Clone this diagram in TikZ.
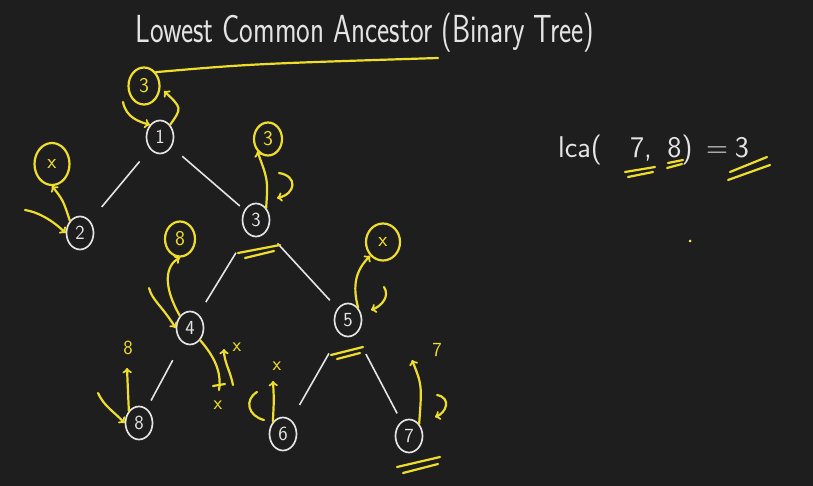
\documentclass[tikz,border=0pt]{standalone}
\usepackage{tikz}
\usetikzlibrary{shapes.geometric}
\definecolor{board}{RGB}{30,30,30}
\definecolor{chalk}{RGB}{228,228,228}
\definecolor{marker}{RGB}{238,222,42}
\tikzset{
	treenode/.style={draw=chalk, line width=1.7pt, ellipse, minimum width=27pt, minimum height=33pt, inner sep=0pt, text=chalk, font=\sffamily\fontsize{20}{20}\selectfont},
	tracenode/.style={draw=marker, line width=2.2pt, ellipse, inner sep=0pt, text=marker, font=\sffamily\fontsize{21}{21}\selectfont},
	treeline/.style={chalk, line width=1.6pt, shorten <=16pt, shorten >=9pt},
	yarrow/.style={marker, line width=2.2pt, line cap=round, ->},
	yline/.style={marker, line width=2.2pt, line cap=round},
	ytext/.style={text=marker, inner sep=0pt, font=\sffamily\fontsize{20}{20}\selectfont},
	wtext/.style={text=chalk, inner sep=0pt, anchor=base, font=\sffamily\fontsize{30}{30}\selectfont}
}

\begin{document}
\begin{tikzpicture}[x=1pt, y=-1pt]
		%%%%% START %%%%%
		
		\fill[board] (0, 0) rectangle (813, 486);
		
		\node[text=chalk, font=\sffamily\fontsize{29}{29}\selectfont] (title) at (365, 33) {\scalebox{1}[1.35]{Lowest Common Ancestor (Binary Tree)}};
		
		% tree
		\node[treenode] (n1) at (160, 137) {1};
		\node[treenode] (n2) at (80, 233) {2};
		\node[treenode] (n3) at (256, 220) {3};
		\node[treenode] (n4) at (190, 328) {4};
		\node[treenode] (n5) at (348, 320) {5};
		\node[treenode] (n8) at (139, 423) {8};
		\node[treenode] (n6) at (283, 434) {6};
		\node[treenode] (n7) at (409, 436) {7};
		
		\draw[treeline, shorten >=18pt] (n1) -- (n2);
		\draw[treeline, shorten <=14pt, shorten >=6pt] (n1) -- (n3);
		\draw[treeline, shorten <=22pt, shorten >=14pt] (n3) -- (n4);
		\draw[treeline, shorten >=11pt] (n3) -- (n5);
		\draw[treeline, shorten <=20pt] (n4) -- (n8);
		\draw[treeline, shorten <=22pt, shorten >=17pt] (n5) -- (n6);
		\draw[treeline, shorten <=22pt] (n5) -- (n7);
		
		% returned values
		\node[tracenode, minimum width=31pt, minimum height=37pt] (r1) at (144, 86) {3};
		\node[tracenode, minimum width=35pt, minimum height=42pt] (r2) at (52, 164) {x};
		\node[tracenode, minimum width=28pt, minimum height=33pt] (r3) at (268, 139) {3};
		\node[tracenode, minimum width=30pt, minimum height=35pt] (r4) at (180, 239) {8};
		\node[tracenode, minimum width=34pt, minimum height=37pt] (r5) at (383, 242) {x};
		
		\coordinate (tail) at (438, 58);
		\draw[yline] (r1.north east) .. controls (250, 64) .. (tail);
		
		% calls and returns around 1
		\draw[yarrow] (123, 102) .. controls (126, 118) and (140, 122) .. (n1.north west);
		\draw[yarrow] (n1.north east) .. controls (182, 108) .. (164, 91);
		
		% around 2
		\draw[yarrow] (25, 210) .. controls (38, 212) and (52, 220) .. (n2.west);
		\draw[yarrow] (n2.north west) .. controls (63, 200) .. (r2.south);
		
		% around 3
		\draw[yarrow] (n3.north east) .. controls (268, 180) .. (r3.south west);
		\draw[yarrow] (279, 173) .. controls (298, 176) and (296, 194) .. (277, 198);
		\draw[yline] (238, 253) -- (280, 245);
		\draw[yline] (245, 258) -- (274, 251);
		
		% around 4
		\draw[yarrow] (n4.north west) .. controls (162, 285) and (166, 265) .. (r4.south);
		\draw[yarrow] (149, 288) .. controls (152, 300) and (162, 306) .. (n4.west);
		\draw[yline] (n4.south east) .. controls (214, 356) and (222, 372) .. (219, 390);
		\draw[yline] (213, 386) -- (225, 384);
		\draw[yarrow] (233, 385) .. controls (230, 370) and (224, 362) .. (224, 349);
		\node[ytext] (x4a) at (237, 347) {x};
		\node[ytext] (x4b) at (218, 405) {x};
		
		% around 5
		\draw[yarrow] (n5.north east) .. controls (352, 285) and (356, 270) .. (r5.south west);
		\draw[yarrow] (384, 287) .. controls (390, 296) and (382, 306) .. (371, 310);
		\draw[yline] (331, 355) -- (363, 347);
		\draw[yline] (337, 359) -- (360, 353);
		
		% around 8
		\node[ytext] (v8) at (128, 348) {8};
		\draw[yarrow] (n8.north west) .. controls (128, 392) .. (127, 368);
		\draw[yarrow] (98, 393) .. controls (104, 406) and (112, 410) .. (n8.west);
		
		% around 6
		\node[ytext] (x6) at (277, 366) {x};
		\draw[yarrow] (n6.north west) .. controls (274, 400) .. (273, 381);
		\draw[yline] (257, 392) .. controls (244, 400) and (248, 416) .. (264, 420);
		
		% around 7
		\node[ytext] (v7) at (437, 350) {7};
		\draw[yarrow] (n7.north east) .. controls (422, 385) .. (412, 360);
		\draw[yarrow] (437, 395) .. controls (452, 398) and (446, 413) .. (435, 417);
		\draw[yline] (397, 467) -- (440, 457);
		\draw[yline] (403, 473) -- (438, 464);
		
		% lca( 7, 8) = 3
		\node[wtext, anchor=base west] (lca) at (558, 158) {lca(};
		\node[wtext] (a7) at (641, 158) {7,};
		\node[wtext] (a8) at (680, 158) {8)};
		\node[wtext] (eq) at (717, 158) {=};
		\node[wtext] (res) at (742, 158) {3};
		\draw[yline] (625, 172) -- (655, 167);
		\draw[yline] (628, 177) -- (653, 172);
		\draw[yline] (668, 163) -- (683, 160);
		\draw[yline] (667, 168) -- (682, 164);
		\draw[yline] (730, 172) -- (767, 157);
		\draw[yline] (728, 180) -- (770, 165);
		
		\fill[marker!70!white] (690, 241) circle (1.5);
		
		%%%%% END %%%%%
\end{tikzpicture}
\end{document}
